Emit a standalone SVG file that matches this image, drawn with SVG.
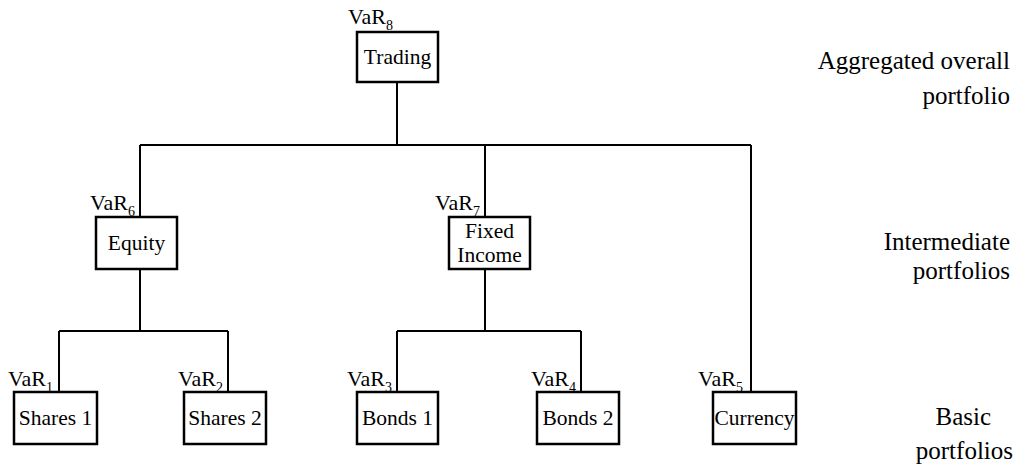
<svg xmlns="http://www.w3.org/2000/svg" width="1016" height="468" viewBox="0 0 1016 468">
<style>
.box{fill:#fff;stroke:#000;stroke-width:2.5}
text{font-family:'Liberation Serif','DejaVu Serif',serif;fill:#000}
.lbl{font-size:21.5px;text-anchor:middle}
.var{font-size:22px}
.sub{font-size:14px}
.side{font-size:25px;text-anchor:end}
.conn{stroke:#000;stroke-width:2;fill:none}
</style>
<rect width="1016" height="468" fill="#fff"/>
<g id="connectors" class="conn">
<path d="M397 82V145M140 145H751M140 145V217M485 145V217M751 145V392"/>
<path d="M140 269V331M59 331H228M59 331V392M228 331V392"/>
<path d="M485 269V331M397 331H581M397 331V392M581 331V392"/>
</g>
<g id="trading"><rect class="box" x="357" y="32" width="81" height="50"/><text class="lbl" x="397.5" y="64">Trading</text><text class="var" x="348" y="24">VaR<tspan class="sub" dy="6">8</tspan></text></g>
<g id="equity"><rect class="box" x="96" y="217" width="81" height="52"/><text class="lbl" x="136.5" y="250">Equity</text><text class="var" x="90" y="210">VaR<tspan class="sub" dy="6">6</tspan></text></g>
<g id="fixed-income"><rect class="box" x="449" y="217" width="81" height="52"/><text class="lbl" x="489.5" y="238">Fixed</text><text class="lbl" x="489.5" y="262">Income</text><text class="var" x="435" y="210">VaR<tspan class="sub" dy="6">7</tspan></text></g>
<g id="shares1"><rect class="box" x="14" y="392" width="83" height="52"/><text class="lbl" x="55.5" y="425">Shares 1</text><text class="var" x="8" y="386">VaR<tspan class="sub" dy="6">1</tspan></text></g>
<g id="shares2"><rect class="box" x="184" y="392" width="82" height="52"/><text class="lbl" x="225" y="425">Shares 2</text><text class="var" x="178" y="386">VaR<tspan class="sub" dy="6">2</tspan></text></g>
<g id="bonds1"><rect class="box" x="357" y="392" width="81" height="52"/><text class="lbl" x="397.5" y="425">Bonds 1</text><text class="var" x="347" y="386">VaR<tspan class="sub" dy="6">3</tspan></text></g>
<g id="bonds2"><rect class="box" x="537" y="392" width="82" height="52"/><text class="lbl" x="578" y="425">Bonds 2</text><text class="var" x="531" y="386">VaR<tspan class="sub" dy="6">4</tspan></text></g>
<g id="currency"><rect class="box" x="713" y="392" width="83" height="52"/><text class="lbl" x="754.5" y="425">Currency</text><text class="var" x="698" y="386">VaR<tspan class="sub" dy="6">5</tspan></text></g>
<g id="levels">
<text class="side" x="1010" y="69">Aggregated overall</text>
<text class="side" x="1010" y="104">portfolio</text>
<text class="side" x="1010" y="250">Intermediate</text>
<text class="side" x="1010" y="279">portfolios</text>
<text class="side" x="991" y="425">Basic</text>
<text class="side" x="1013" y="459">portfolios</text>
</g>
</svg>
